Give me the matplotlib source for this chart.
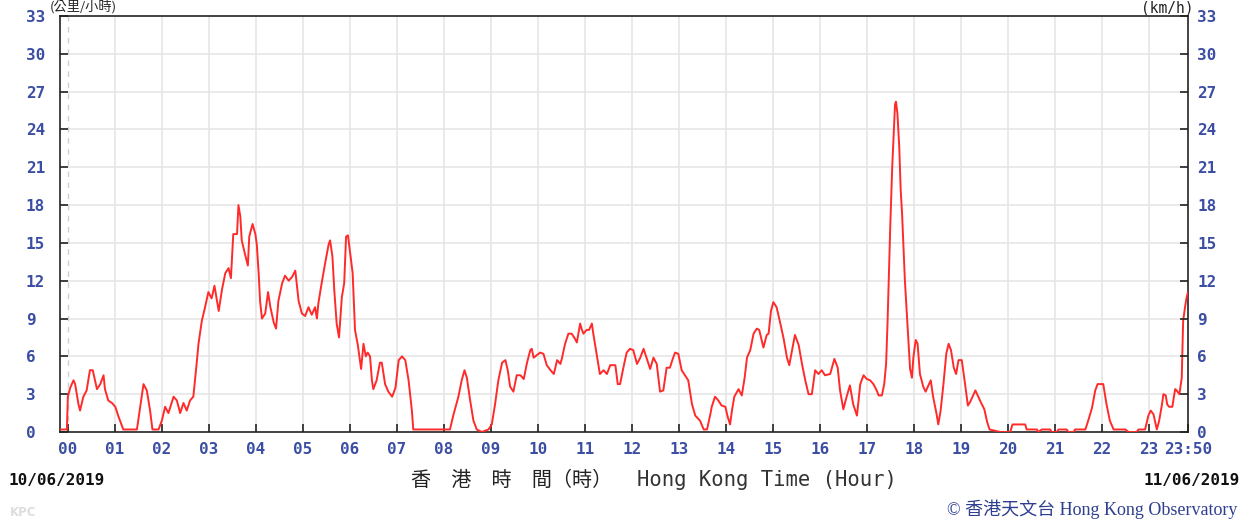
import matplotlib
matplotlib.use("Agg")
import matplotlib.pyplot as plt

# ---- data (hours since 00:00 on 10/06/2019, wind speed km/h) ----
hours = [
    -0.167, -0.02, 0.0, 0.05, 0.12, 0.155, 0.226, 0.26, 0.33, 0.40, 0.47, 0.53, 0.62, 0.69, 0.76, 0.79,
    0.86, 0.94, 1.01, 1.08, 1.18, 1.47, 1.61, 1.68, 1.75, 1.80, 1.93, 2.00, 2.07, 2.14, 2.25, 2.32,
    2.39, 2.46, 2.53, 2.60, 2.67, 2.74, 2.78, 2.85, 2.92, 2.99, 3.06, 3.12, 3.21, 3.28, 3.35, 3.42,
    3.47, 3.52, 3.60, 3.63, 3.67, 3.70,
    3.77, 3.83, 3.86, 3.93, 3.99, 4.02, 4.06, 4.09, 4.13, 4.20, 4.26, 4.31, 4.38, 4.43, 4.48, 4.56,
    4.62, 4.70, 4.77, 4.84, 4.91, 4.98, 5.05, 5.12, 5.19, 5.26, 5.30, 5.33, 5.40, 5.48, 5.55, 5.58,
    5.63, 5.67, 5.72, 5.77, 5.83, 5.88, 5.92, 5.96, 6.01, 6.06, 6.11, 6.17, 6.24, 6.29, 6.34, 6.38,
    6.43, 6.47, 6.50, 6.57, 6.64, 6.68, 6.75, 6.82, 6.90, 6.97, 7.04, 7.11, 7.18, 7.25, 7.32, 7.35,
    8.13,
    8.20, 8.31, 8.38, 8.44, 8.49, 8.56, 8.63, 8.70, 8.81, 8.95, 9.02, 9.09, 9.16, 9.24, 9.31, 9.36,
    9.41, 9.48, 9.55, 9.63, 9.70, 9.77, 9.84, 9.87, 9.91, 9.98, 10.05, 10.12, 10.19, 10.27, 10.34,
    10.41, 10.48, 10.51, 10.58, 10.65, 10.72, 10.79, 10.83, 10.90, 10.93, 10.97, 11.04, 11.09, 11.15,
    11.18, 11.25, 11.32, 11.40, 11.47, 11.54, 11.65, 11.70, 11.75, 11.82, 11.89, 11.96, 12.03, 12.11,
    12.18, 12.25, 12.32, 12.39, 12.46, 12.53, 12.60, 12.67, 12.74, 12.81, 12.87, 12.92, 12.99, 13.06,
    13.13,
    13.20, 13.28, 13.35, 13.45, 13.53, 13.60, 13.67, 13.70, 13.77, 13.84, 13.91, 13.99, 14.04, 14.09,
    14.13, 14.18, 14.27, 14.34, 14.40, 14.45, 14.52, 14.59, 14.66, 14.71, 14.80, 14.87, 14.91, 14.96,
    15.01, 15.08, 15.16, 15.23, 15.30, 15.35, 15.40, 15.47, 15.55, 15.62, 15.69, 15.76, 15.83, 15.90,
    15.97, 16.04, 16.11, 16.22, 16.31, 16.38, 16.43, 16.50, 16.57, 16.64, 16.71, 16.79, 16.86, 16.93,
    17.00,
    17.07, 17.14, 17.21, 17.25, 17.32, 17.37, 17.41, 17.44, 17.46, 17.50, 17.54, 17.57, 17.60, 17.62,
    17.65, 17.69, 17.72, 17.75, 17.78, 17.81, 17.85, 17.89, 17.92, 17.96, 17.99, 18.04, 18.08, 18.13,
    18.20, 18.25, 18.30, 18.36, 18.41, 18.48, 18.52, 18.57, 18.63, 18.69, 18.74, 18.79, 18.85, 18.90,
    18.95, 19.02, 19.09, 19.15, 19.20, 19.31, 19.42, 19.50, 19.56, 19.61,
    19.84, 20.05, 20.10, 20.37, 20.40, 20.62, 20.65, 20.72, 20.90, 20.93, 21.04, 21.08, 21.25, 21.29,
    21.40, 21.43, 21.65, 21.71, 21.79, 21.86, 21.91, 22.03, 22.10, 22.17, 22.25, 22.50, 22.57, 22.74,
    22.78, 22.92, 22.99, 23.04, 23.10, 23.17, 23.22, 23.28, 23.31, 23.36, 23.39, 23.43, 23.50, 23.56,
    23.59, 23.65, 23.70, 23.73, 23.77, 23.80, 23.833,
]
speed = [
    0.2, 0.2, 2.8, 3.5, 4.1, 3.8, 2.2, 1.7, 2.8, 3.3, 4.9, 4.9, 3.4, 3.8, 4.5, 3.4,
    2.5, 2.3, 2.0, 1.2, 0.2, 0.2, 3.8, 3.3, 1.7, 0.2, 0.2, 0.9, 2.0, 1.5, 2.8, 2.5,
    1.5, 2.3, 1.7, 2.5, 2.8, 5.4, 7.0, 8.8, 9.9, 11.1, 10.6, 11.6, 9.6, 11.3, 12.6, 13.0,
    12.2, 15.7, 15.7, 18.0, 17.1, 15.2,
    14.1, 13.2, 15.5, 16.5, 15.7, 14.9, 12.6, 10.4, 9.0, 9.4, 11.1, 9.9, 8.7, 8.2, 10.4, 11.8,
    12.4, 12.0, 12.3, 12.8, 10.4, 9.4, 9.2, 9.9, 9.3, 9.9, 9.0, 10.2, 11.8, 13.5, 14.9, 15.2,
    13.9, 11.2, 8.6, 7.5, 10.7, 11.8, 15.5, 15.6, 14.1, 12.6, 8.1, 6.9, 5.0, 7.0, 6.0, 6.3,
    6.0, 4.1, 3.4, 4.1, 5.5, 5.5, 3.8, 3.2, 2.8, 3.5, 5.7, 6.0, 5.7, 4.1, 1.7, 0.2,
    0.2,
    1.3, 2.8, 4.1, 4.9, 4.3, 2.5, 0.9, 0.2, 0.0, 0.2, 0.6, 2.2, 4.1, 5.5, 5.7, 4.9,
    3.6, 3.2, 4.5, 4.5, 4.2, 5.5, 6.5, 6.6, 5.9, 6.1, 6.3, 6.2, 5.3, 4.9, 4.6,
    5.7, 5.4, 5.8, 7.0, 7.8, 7.8, 7.4, 7.1, 8.6, 8.2, 7.8, 8.1, 8.1, 8.6,
    7.8, 6.2, 4.6, 4.9, 4.6, 5.3, 5.3, 3.8, 3.8, 5.1, 6.3, 6.6, 6.5, 5.4,
    5.9, 6.6, 5.8, 5.0, 5.9, 5.4, 3.2, 3.3, 5.1, 5.1, 5.8, 6.3, 6.2, 4.9,
    4.5,
    4.1, 2.2, 1.3, 0.9, 0.2, 0.2, 1.4, 2.0, 2.8, 2.5, 2.1, 2.0, 1.2, 0.6,
    1.7, 2.8, 3.4, 2.9, 4.3, 5.9, 6.5, 7.8, 8.2, 8.1, 6.7, 7.7, 7.8, 9.6,
    10.3, 9.9, 8.6, 7.4, 5.9, 5.3, 6.3, 7.7, 6.9, 5.4, 4.1, 3.0, 3.0, 4.9,
    4.6, 4.9, 4.5, 4.6, 5.8, 5.1, 3.3, 1.8, 2.8, 3.7, 2.2, 1.3, 3.8, 4.5,
    4.2,
    4.1, 3.8, 3.3, 2.9, 2.9, 3.8, 5.4, 8.6, 11.2, 16.5, 21.0, 23.6, 26.0, 26.2,
    25.3, 22.6, 19.2, 17.3, 14.7, 12.0, 9.5, 6.9, 5.0, 4.3, 5.9, 7.3, 7.0, 4.6,
    3.6, 3.2, 3.6, 4.1, 2.8, 1.5, 0.6, 1.7, 3.8, 6.2, 7.0, 6.5, 5.1, 4.6,
    5.7, 5.7, 3.8, 2.1, 2.4, 3.3, 2.4, 1.8, 0.8, 0.2,
    0.0, 0.0, 0.6, 0.6, 0.2, 0.2, 0.0, 0.2, 0.2, 0.0, 0.0, 0.2, 0.2, 0.0,
    0.0, 0.2, 0.2, 0.9, 1.9, 3.3, 3.8, 3.8, 2.2, 0.9, 0.2, 0.2, 0.0, 0.0,
    0.2, 0.2, 1.3, 1.7, 1.4, 0.2, 0.9, 2.2, 3.0, 2.9, 2.2, 2.0, 2.0, 3.4,
    3.3, 3.0, 4.3, 8.8, 9.9, 10.6, 11.1,
]

x_ticks = list(range(24)) + [23 + 50 / 60]
x_ticklabels = ["%02d" % h for h in range(24)] + ["23:50"]
y_ticks = list(range(0, 34, 3))
y_ticklabels = [str(v) for v in y_ticks]

W, H = 1249, 523
fig = plt.figure(figsize=(W / 100, H / 100), dpi=100)
fig.patch.set_facecolor("white")

ax_l, ax_r, ax_t, ax_b = 60, 1188, 16, 432
ax = fig.add_axes([ax_l / W, 1 - ax_b / H, (ax_r - ax_l) / W, (ax_b - ax_t) / H])

xmin, xmax = -10 / 60, 23 + 50 / 60
ax.set_xlim(xmin, xmax)
ax.set_ylim(0, 33)

# grid
for h in range(1, 24):
    ax.axvline(h, color="#e6e6e6", lw=1.2, zorder=0)
for v in range(3, 33, 3):
    ax.axhline(v, color="#e6e6e6", lw=1.2, zorder=0)
ax.axvline(0, color="#d0d0d0", lw=1.0, ls=(0, (4, 4)), zorder=0)

ax.plot(hours, speed, color="#ff2a2a", lw=1.4, zorder=3)

for s in ax.spines.values():
    s.set_color("#222222")
    s.set_linewidth(1.2)

tick_color = "#3b4ea3"
tick_font = dict(family="DejaVu Sans Mono", weight="bold", size=11.5)

ax.set_xticks(x_ticks)
ax.set_xticklabels(x_ticklabels, color=tick_color, **tick_font)
ax.set_yticks(y_ticks)
ax.set_yticklabels(y_ticklabels, color=tick_color, ha="left", **tick_font)
ax.tick_params(axis="x", direction="in", length=6, width=1.2, color="#222222", pad=7)
ax.tick_params(axis="y", direction="in", length=6, width=1.2, color="#222222",
               left=True, right=False, labelleft=True, labelright=False, pad=24.5)

# right-hand labels
ax2 = ax.twinx()
ax2.set_ylim(0, 33)
ax2.set_yticks(y_ticks)
ax2.set_yticklabels(y_ticklabels, color=tick_color, ha="left", **tick_font)
ax2.tick_params(axis="y", direction="in", length=6, width=1.2, color="#222222", pad=6.5)
for s in ax2.spines.values():
    s.set_visible(False)

def fx(px):
    return px / W

def fy(py):
    return 1 - py / H

# unit labels (kept clear of the top tick labels)
fig.text(fx(50), fy(0.5), "(公里/小時)", family=["Noto Sans CJK TC", "DejaVu Sans"],
         fontsize=9.5, color="#222222", ha="left", va="top")
fig.text(fx(1193), fy(0.5), "(km/h)", family="DejaVu Sans Mono", fontsize=10.5,
         color="#222222", ha="right", va="top")

# dates
fig.text(fx(8), fy(480), "10/06/2019", family="DejaVu Sans Mono", weight="bold",
         fontsize=11.5, color="#111111", ha="left", va="center")
fig.text(fx(1240), fy(480), "11/06/2019", family="DejaVu Sans Mono", weight="bold",
         fontsize=11.5, color="#111111", ha="right", va="center")

# axis title
fig.text(fx(512), fy(480), "香\u3000港\u3000時\u3000間（時）", family=["Noto Sans CJK TC", "DejaVu Sans"],
         fontsize=14.5, color="#222222", ha="center", va="center")
fig.text(fx(637), fy(480), "Hong Kong Time (Hour)", family="DejaVu Sans Mono",
         fontsize=14.8, color="#333333", ha="left", va="center")

# footer
fig.text(fx(10), fy(513), "KPC", family="DejaVu Sans", weight="bold", fontsize=8.5,
         color="#dddddd", ha="left", va="center")
fig.text(fx(1237), fy(509), "© 香港天文台 Hong Kong Observatory",
         family=["Liberation Serif", "Noto Sans CJK TC"], fontsize=13,
         color="#2f3f90", ha="right", va="center")

fig.savefig("out.png", dpi=100, facecolor="white")
